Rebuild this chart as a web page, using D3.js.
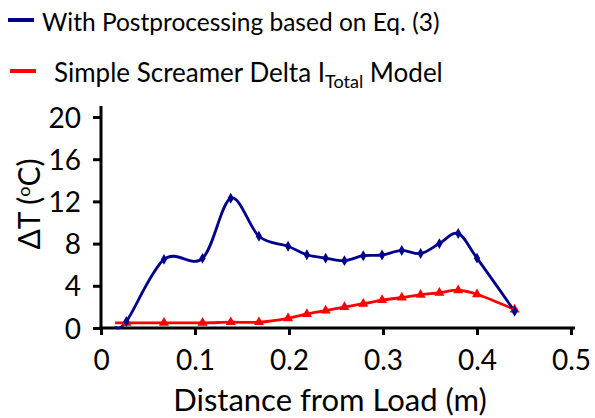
<!DOCTYPE html>
<html>
<head>
<meta charset="utf-8">
<script src="https://cdn.jsdelivr.net/npm/d3@7"></script>
<style>
  html, body { margin: 0; padding: 0; background: #fff; }
  svg { display: block; }
  text { font-family: Lato, "Open Sans", sans-serif; fill: #000; }
</style>
</head>
<body>
<svg id="chart" width="595" height="418"></svg>
<script>
// ---- data ----
const distance = [0.015, 0.027, 0.067, 0.108, 0.138, 0.168, 0.199, 0.219, 0.239, 0.259, 0.279, 0.299, 0.320, 0.340, 0.360, 0.380, 0.400, 0.440];
const postprocessed = [0.15, 0.62, 6.5, 6.6, 12.3, 8.7, 7.75, 6.94, 6.62, 6.38, 6.85, 6.92, 7.35, 7.06, 8.0, 8.96, 6.62, 1.59];
const simpleModel = [0.49, 0.49, 0.49, 0.49, 0.55, 0.55, 0.92, 1.33, 1.65, 1.99, 2.3, 2.64, 2.89, 3.15, 3.34, 3.58, 3.2, 1.75];
const xTicks = [0, 0.1, 0.2, 0.3, 0.4, 0.5];
const yTicks = [0, 4, 8, 12, 16, 20];
const seriesNames = ["With Postprocessing based on Eq. (3)", "Simple Screamer Delta I", "Total", " Model"];
const xTitle = "Distance from Load (m)";

const svg = d3.select("#chart");
const x = d3.scaleLinear().domain([0, 0.5]).range([101, 571]);
const y = d3.scaleLinear().domain([0, 20]).range([328, 117]);

const blue = "#00008B", red = "#FF0000";

// axes
const xAxis = svg.append("g").attr("transform", `translate(0,${y(0)})`)
  .call(d3.axisBottom(x).tickValues(xTicks).tickSize(7).tickFormat(d => d === 0 ? "0" : d3.format(".1f")(d)));
const yAxis = svg.append("g").attr("transform", `translate(${x(0)},0)`)
  .call(d3.axisLeft(y).tickValues(yTicks).tickSize(8).tickFormat(d3.format("d")));
[xAxis, yAxis].forEach(g => {
  g.select(".domain").remove();
  g.selectAll(".tick line").attr("stroke", "#000").attr("stroke-width", 3);
  g.selectAll(".tick text").style("font-size", "28px").style("font-family", "Lato, sans-serif").attr("fill", "#000");
});
xAxis.selectAll(".tick text").attr("dy", null).attr("y", 42);
yAxis.selectAll(".tick text").attr("x", -20).attr("dy", "0.36em");
// axis lines
svg.append("line").attr("x1", x(0) - 1.5).attr("x2", 575).attr("y1", y(0)).attr("y2", y(0))
  .attr("stroke", "#000").attr("stroke-width", 3);
svg.append("line").attr("x1", x(0)).attr("x2", x(0)).attr("y1", 106).attr("y2", y(0) + 1.5)
  .attr("stroke", "#000").attr("stroke-width", 3);

// titles
svg.append("text").attr("x", 330).attr("y", 411).attr("text-anchor", "middle")
  .style("font-size", "31px").text(xTitle);
const yt = svg.append("text").attr("transform", `translate(40,${204}) rotate(-90)`).attr("text-anchor", "middle")
  .style("font-size", "30px");
yt.append("tspan").text("ΔT (");
yt.append("tspan").attr("dy", -10).style("font-size", "18px").text("o");
yt.append("tspan").attr("dy", 10).text("C)");

// lines
const pts1 = distance.map((d, i) => [d, postprocessed[i]]);
const pts2 = distance.map((d, i) => [d, simpleModel[i]]);
const line = d3.line().x(d => x(d[0])).y(d => y(d[1])).curve(d3.curveCardinal.tension(0));

svg.append("path").datum(pts2).attr("d", line).attr("fill", "none").attr("stroke", red).attr("stroke-width", 2.8);
svg.append("path").datum(pts1).attr("d", line).attr("fill", "none").attr("stroke", blue).attr("stroke-width", 2.8);

// markers (first point carries no marker)
svg.append("g").selectAll("path").data(pts2.slice(1)).join("path")
  .attr("d", d3.symbol(d3.symbolTriangle, 44))
  .attr("transform", d => `translate(${x(d[0])},${y(d[1])})`).attr("fill", red);
svg.append("g").selectAll("path").data(pts1.slice(1)).join("path")
  .attr("d", d3.symbol(d3.symbolDiamond, 34))
  .attr("transform", d => `translate(${x(d[0])},${y(d[1])})`).attr("fill", blue);

// legend
svg.append("line").attr("x1", 8).attr("x2", 34).attr("y1", 20).attr("y2", 20).attr("stroke", blue).attr("stroke-width", 4);
svg.append("line").attr("x1", 10).attr("x2", 36).attr("y1", 71).attr("y2", 71).attr("stroke", red).attr("stroke-width", 4);
svg.append("text").attr("x", 42).attr("y", 31).style("font-size", "24.5px").text(seriesNames[0]);
const l2 = svg.append("text").attr("x", 54).attr("y", 82).style("font-size", "26px");
l2.append("tspan").text(seriesNames[1]);
l2.append("tspan").attr("dy", 6).style("font-size", "18px").text(seriesNames[2]);
l2.append("tspan").attr("dy", -6).text(seriesNames[3]);
</script>
</body>
</html>
